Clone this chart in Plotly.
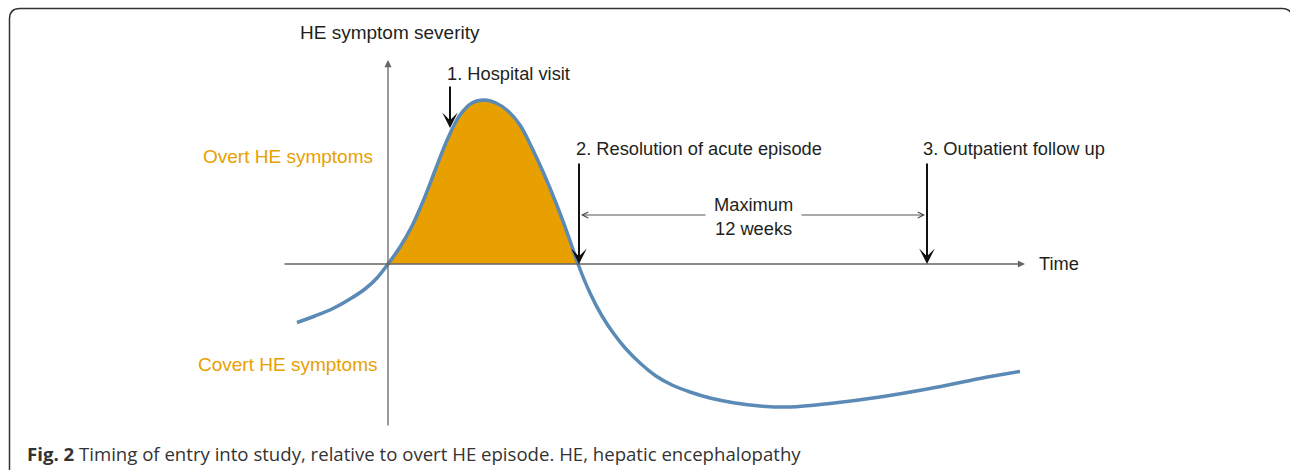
import plotly.graph_objects as go

# ---- data (schematic units) ----
time = [-1.82, -1.46, -1.10, -0.76, -0.46, -0.22, 0.0, 0.24, 0.48, 0.72, 0.96, 1.20,
        1.44, 1.68, 1.92, 2.16, 2.40, 2.64, 2.88, 3.12, 3.36, 3.60, 3.80, 4.04, 4.28,
        4.52, 4.76, 5.04, 5.36, 5.68, 6.04, 6.44, 6.94, 7.44, 8.04, 8.84, 9.84, 10.84,
        11.84, 12.64]
severity = [-1.17, -1.04, -0.89, -0.70, -0.50, -0.28, 0.0, 0.34, 0.76, 1.30, 1.92, 2.52,
            2.98, 3.22, 3.28, 3.22, 3.06, 2.78, 2.32, 1.80, 1.22, 0.58, 0.0, -0.58, -1.04,
            -1.40, -1.70, -1.98, -2.24, -2.42, -2.56, -2.68, -2.78, -2.84, -2.86, -2.79,
            -2.66, -2.49, -2.29, -2.15]

episode_start = 0.0
episode_end = 3.80

event_labels = ["1. Hospital visit", "2. Resolution of acute episode", "3. Outpatient follow up"]
event_times = [1.24, 3.82, 10.78]
event_heads = [2.72, 0.0, 0.0]

window_label = "Maximum<br>12 weeks"

# ---- styling ----
ORANGE = "#E8A000"
BLUE = "#5A8AB5"
AXIS = "#666666"
TEXT = "#231F20"
FONT = "Liberation Sans"

W, H = 1290, 470
X0_PX, Y0_PX, UNIT = 388, 264, 50.0
xr = [(0 - X0_PX) / UNIT, (W - X0_PX) / UNIT]
yr = [(Y0_PX - H) / UNIT, Y0_PX / UNIT]

fig = go.Figure()

# filled overt episode
fx = [t for t in time if episode_start <= t <= episode_end]
fy = [s for t, s in zip(time, severity) if episode_start <= t <= episode_end]
fig.add_trace(go.Scatter(x=fx, y=fy, mode="lines", line=dict(width=0, shape="spline"),
                         fill="tozeroy", fillcolor=ORANGE, hoverinfo="skip", showlegend=False))

# axes
fig.add_annotation(x=12.74, y=0, ax=-2.1, ay=0, xref="x", yref="y", axref="x", ayref="y",
                   showarrow=True, arrowhead=2, arrowsize=1.1, arrowwidth=1.3, arrowcolor=AXIS, text="")
fig.add_annotation(x=0, y=4.08, ax=0, ay=-3.26, xref="x", yref="y", axref="x", ayref="y",
                   showarrow=True, arrowhead=2, arrowsize=1.1, arrowwidth=1.3, arrowcolor=AXIS, text="")

# curve
fig.add_trace(go.Scatter(x=time, y=severity, mode="lines",
                         line=dict(color=BLUE, width=3.5, shape="spline"),
                         hoverinfo="skip", showlegend=False))

# event arrows and labels
label_dx = [-0.1, -0.1, -0.12]
label_y = [3.82, 2.32, 2.32]
tail_y = [3.58, 2.04, 2.04]
for lab, t, hy, dx, ly, ty in zip(event_labels, event_times, event_heads, label_dx, label_y, tail_y):
    fig.add_annotation(x=t, y=hy, ax=t, ay=ty, xref="x", yref="y", axref="x", ayref="y",
                       showarrow=True, arrowhead=3, arrowsize=1.3, arrowwidth=2,
                       arrowcolor="#111111", text="")
    fig.add_annotation(x=t + dx, y=ly, xref="x", yref="y", text=lab, showarrow=False,
                       xanchor="left", yanchor="middle",
                       font=dict(family=FONT, size=18.3, color=TEXT))

# window double arrow
wy = 0.98
fig.add_annotation(x=event_times[1] + 0.04, y=wy, ax=6.38, ay=wy, xref="x", yref="y",
                   axref="x", ayref="y", showarrow=True, arrowhead=5, arrowsize=1.3,
                   arrowwidth=0.9, arrowcolor="#444444", text="")
fig.add_annotation(x=event_times[2] - 0.04, y=wy, ax=8.24, ay=wy, xref="x", yref="y",
                   axref="x", ayref="y", showarrow=True, arrowhead=5, arrowsize=1.3,
                   arrowwidth=0.9, arrowcolor="#444444", text="")
fig.add_annotation(x=7.3, y=0.96, xref="x", yref="y", text=window_label, showarrow=False,
                   xanchor="center", yanchor="middle",
                   font=dict(family=FONT, size=18.3, color=TEXT))

# axis labels
fig.add_annotation(x=-1.8, y=4.64, xref="x", yref="y", text="HE symptom severity",
                   showarrow=False, xanchor="left", yanchor="middle",
                   font=dict(family=FONT, size=19, color=TEXT))
fig.add_annotation(x=12.98, y=0.02, xref="x", yref="y", text="Time",
                   showarrow=False, xanchor="left", yanchor="middle",
                   font=dict(family=FONT, size=18.3, color=TEXT))
fig.add_annotation(x=-0.26, y=2.16, xref="x", yref="y", text="Overt HE symptoms",
                   showarrow=False, xanchor="right", yanchor="middle",
                   font=dict(family=FONT, size=19, color=ORANGE))
fig.add_annotation(x=-0.18, y=-2.0, xref="x", yref="y", text="Covert HE symptoms",
                   showarrow=False, xanchor="right", yanchor="middle",
                   font=dict(family=FONT, size=19, color=ORANGE))

# caption
fig.add_annotation(x=25 / W, y=1 - 453 / H, xref="paper", yref="paper",
                   text="<b>Fig. 2</b> Timing of entry into study, relative to overt HE episode. HE, hepatic encephalopathy",
                   showarrow=False, xanchor="left", yanchor="middle",
                   font=dict(family="Open Sans", size=18.6, color="#333333"))

# rounded frame
def px(x, y):
    return f"{x / W:.5f},{1 - y / H:.5f}"
frame = (f"M {px(9.5, 480)} L {px(9.5, 19)} Q {px(9.5, 8.5)} {px(20, 8.5)} "
         f"L {px(1282, 8.5)} Q {px(1292, 8.5)} {px(1292, 18)}")
fig.add_shape(type="path", path=frame, xref="paper", yref="paper",
              line=dict(color="#333333", width=1.5))

fig.update_xaxes(visible=False, range=xr, fixedrange=True)
fig.update_yaxes(visible=False, range=yr, fixedrange=True)
fig.update_layout(width=W, height=H, margin=dict(l=0, r=0, t=0, b=0),
                  plot_bgcolor="white", paper_bgcolor="white", showlegend=False)

fig.write_html("out.html", config={"displayModeBar": False},
               post_script="document.body.style.margin='0';document.body.style.overflow='hidden';")
